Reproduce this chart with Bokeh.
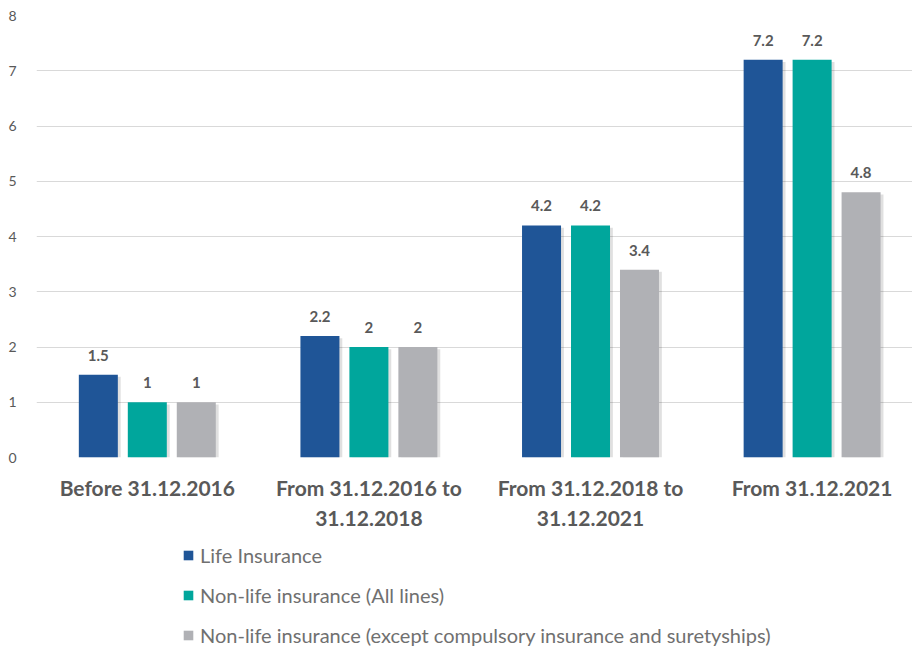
from bokeh.plotting import figure
from bokeh.models import Range1d, ColumnDataSource, Legend, LegendItem, FixedTicker, SingleIntervalTicker
from bokeh.layouts import column
from bokeh.core.properties import value
from bokeh.embed import file_html
from bokeh.resources import INLINE

categories = ["Before 31.12.2016", "From 31.12.2016 to\n31.12.2018", "From 31.12.2018 to\n31.12.2021", "From 31.12.2021"]
series_names = ["Life Insurance", "Non-life insurance (All lines)",
                "Non-life insurance (except compulsory insurance and suretyships)"]
life = [1.5, 2.2, 4.2, 7.2]
nonlife_all = [1, 2, 4.2, 7.2]
nonlife_except = [1, 2, 3.4, 4.8]
colors = ["#1F5597", "#00A69C", "#B0B1B5"]

FONT = "Lato"
TXT = "#595959"

p = figure(width=912, height=538, output_backend="svg", toolbar_location=None,
           x_range=Range1d(-0.5, 3.453), y_range=Range1d(0, 8),
           min_border_left=36, min_border_right=0, min_border_top=15, min_border_bottom=81)
p.outline_line_color = None
p.background_fill_color = "white"
p.border_fill_color = "white"

offsets = [-0.221, 0.0, 0.221]
bw = 0.176
xs = list(range(len(categories)))
for vals, off, col in zip([life, nonlife_all, nonlife_except], offsets, colors):
    xpos = [x + off for x in xs]
    src = ColumnDataSource(dict(x=xpos, xs=[x + 0.013 for x in xpos], top=vals,
                                stop=[v - 0.04 for v in vals],
                                lab=[("%g" % v) for v in vals]))
    p.vbar(x="xs", top="stop", bottom=0, width=bw, source=src, fill_color="black",
           fill_alpha=0.12, line_color=None)
    p.vbar(x="x", top="top", bottom=0, width=bw, source=src, fill_color=col, line_color=None)
    p.text(x="x", y="top", text="lab", source=src, text_align="center", text_baseline="bottom",
           y_offset=-14, text_font_size="15px", text_font_style="bold", text_color=TXT,
           text_font=value(FONT))

p.xgrid.grid_line_color = None
p.ygrid.grid_line_color = "#D9D9D9"
p.ygrid.grid_line_width = 1.2
p.yaxis.ticker = SingleIntervalTicker(interval=1)
p.yaxis.axis_line_color = None
p.yaxis.major_tick_line_color = None
p.yaxis.minor_tick_line_color = None
p.yaxis.major_label_text_font = FONT
p.yaxis.major_label_text_font_size = "14px"
p.yaxis.major_label_text_color = TXT
p.yaxis.major_label_standoff = 14

p.xaxis.ticker = FixedTicker(ticks=xs)
p.xaxis.major_label_overrides = {i: c for i, c in enumerate(categories)}
p.xaxis.axis_line_color = None
p.xaxis.major_tick_line_color = None
p.xaxis.minor_tick_line_color = None
p.xaxis.major_label_text_font = FONT
p.xaxis.major_label_text_font_size = "21px"
p.xaxis.major_label_text_font_style = "bold"
p.xaxis.major_label_text_color = TXT
p.xaxis.major_label_standoff = 11

# legend figure (swatch glyphs have zero height; only the legend shows)
lg = figure(width=912, height=110, output_backend="svg", toolbar_location=None,
            x_range=Range1d(0, 1), y_range=Range1d(0, 1),
            min_border_left=0, min_border_right=0, min_border_top=0, min_border_bottom=0)
lg.axis.visible = False
lg.grid.visible = False
lg.outline_line_color = None
renderers = []
for col in colors:
    renderers.append(lg.vbar(x=[0.5], top=[0], bottom=0, width=0.1, fill_color=col, line_color=None))

legend = Legend(items=[LegendItem(label=n, renderers=[r]) for n, r in zip(series_names, renderers)],
                orientation="vertical", location=(146, 1))
legend.label_text_font = FONT
legend.label_text_font_size = "20px"
legend.label_text_color = "#707070"
legend.glyph_width = 12
legend.glyph_height = 12
legend.label_height = 24
legend.spacing = 16
legend.label_standoff = 6
legend.border_line_color = None
legend.background_fill_alpha = 0
legend.margin = 0
legend.padding = 0
lg.add_layout(legend, "center")

layout = column(p, lg, spacing=0)
open("out.html", "w").write(file_html(layout, INLINE))
